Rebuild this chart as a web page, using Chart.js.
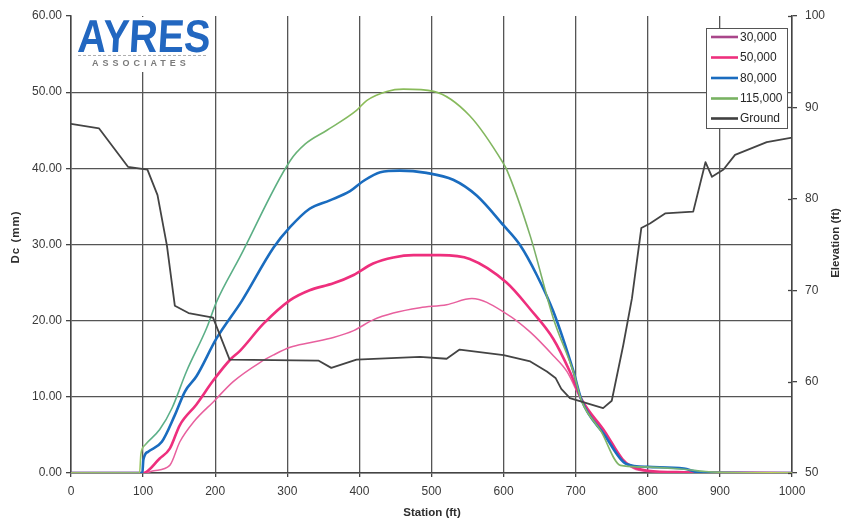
<!DOCTYPE html>
<html>
<head>
<meta charset="utf-8">
<script src="https://cdn.jsdelivr.net/npm/chart.js@4.4.0/dist/chart.umd.min.js"></script>
<style>
  html, body { margin: 0; padding: 0; background: #ffffff; }
  #wrap { width: 843px; height: 522px; position: relative; }
</style>
</head>
<body>
<div id="wrap"><canvas id="c" width="843" height="522"></canvas></div>
<script>
// Series names and axis tick values
const seriesNames = ['30,000', '50,000', '80,000', '115,000', 'Ground'];
const stationTicks = [0, 100, 200, 300, 400, 500, 600, 700, 800, 900, 1000];
const dcTicks = [0, 10, 20, 30, 40, 50, 60];
const elevTicks = [50, 60, 70, 80, 90, 100];

// Dc (mm) along the station line for each load level
const sta30 = [0, 100, 115, 137, 151, 170, 198, 225, 262, 281, 304, 331, 364, 392, 419, 447, 484, 521, 556, 604, 637, 669, 688, 708, 735, 760, 780, 800, 850, 1000];
const dc30  = [0, 0, 0.3, 1.0, 4.1, 6.7, 9.4, 12.0, 14.5, 15.5, 16.5, 17.1, 17.8, 18.7, 20.1, 21.0, 21.7, 22.1, 22.9, 20.9, 18.5, 15.4, 13.3, 9.5, 5.8, 2.2, 0.6, 0.2, 0.1, 0];

const sta50 = [0, 100, 123, 137, 151, 174, 197, 221, 234, 267, 304, 331, 364, 392, 419, 447, 475, 512, 553, 604, 637, 669, 692, 708, 740, 765, 775, 800, 850, 1000];
const dc50  = [0, 0, 1.9, 3.2, 6.3, 9.0, 12.1, 14.9, 16.0, 19.6, 22.7, 24.0, 24.9, 26.0, 27.5, 28.3, 28.6, 28.6, 28.1, 25.0, 21.5, 17.6, 13.3, 9.7, 5.5, 1.8, 1.0, 0.3, 0.1, 0];

const sta80 = [0, 99, 100.3, 107, 126, 144, 158, 174, 202, 237, 281, 304, 331, 359, 387, 405, 429, 456, 493, 530, 563, 600, 623, 646, 669, 697, 708, 740, 770, 800, 850, 870, 1000];
const dc80  = [0, 0, 1.7, 2.8, 4.1, 7.6, 10.7, 12.7, 17.7, 22.6, 29.6, 32.3, 34.7, 35.8, 37.0, 38.3, 39.5, 39.7, 39.4, 38.5, 36.4, 32.5, 29.9, 26.0, 21.2, 13.3, 9.6, 5.0, 1.2, 0.8, 0.6, 0.1, 0];

const sta115 = [0, 95, 97, 103, 123, 140, 160, 188, 202, 234, 304, 325, 355, 396, 410, 438, 461, 503, 553, 600, 604, 637, 669, 697, 708, 735, 762, 790, 850, 880, 900, 1000];
const dc115  = [0, 0, 2.5, 3.7, 5.7, 8.5, 13.3, 19.0, 22.5, 28.3, 41.0, 43.2, 45.0, 47.6, 48.9, 50.1, 50.4, 50.1, 46.9, 40.6, 39.9, 31.1, 20.3, 13.2, 9.5, 5.5, 1.0, 0.8, 0.5, 0.2, 0.1, 0];

// Ground elevation (ft) along the station line
const staGround  = [0, 39, 79, 106, 120, 133, 144, 163, 197, 220, 343, 361, 396, 484, 521, 539, 600, 637, 660, 672, 680, 692, 708, 738, 750, 766, 778, 791, 803, 824, 863, 880, 889, 905, 921, 965, 1000];
const elevGround = [88.2, 87.7, 83.5, 83.2, 80.4, 74.9, 68.3, 67.5, 67.0, 62.4, 62.3, 61.5, 62.4, 62.7, 62.5, 63.5, 62.9, 62.2, 61.1, 60.4, 59.2, 58.2, 57.8, 57.1, 57.9, 64.0, 69.1, 76.8, 77.3, 78.4, 78.6, 84.0, 82.4, 83.2, 84.8, 86.2, 86.7];

function pts(xs, ys) { return xs.map((x, i) => ({ x: x, y: ys[i] })); }

const FONT = "'Liberation Sans', Arial, sans-serif";
const legendColors = ['#a9468a', '#ee2f7d', '#1a6cbf', '#78b262', '#404040'];

// Green line shifts from yellow-green to teal along the station axis
let greenGrad = null, gradKey = '';
function greenStroke(ctx) {
  const ca = ctx.chart.chartArea;
  if (!ca) return '#7ab86c';
  const key = ca.left + ':' + ca.right;
  if (!greenGrad || gradKey !== key) {
    const g = ctx.chart.ctx.createLinearGradient(ca.left, 0, ca.right, 0);
    g.addColorStop(0.00, '#c6d84a');
    g.addColorStop(0.09, '#b4d058');
    g.addColorStop(0.11, '#5cb08a');
    g.addColorStop(0.28, '#5aae84');
    g.addColorStop(0.40, '#8cbc58');
    g.addColorStop(0.55, '#86b95c');
    g.addColorStop(0.65, '#7ab068');
    g.addColorStop(0.72, '#88b860');
    g.addColorStop(0.85, '#6cae7c');
    g.addColorStop(1.00, '#d4e04a');
    greenGrad = g; gradKey = key;
  }
  return greenGrad;
}

function setTicks(values) {
  return function (scale) { scale.ticks = values.map(v => ({ value: v })); };
}

// Logo, legend, right-axis cross ticks and axis titles
const decor = {
  id: 'decor',
  beforeDatasetsDraw(chart) {
    const c = chart.ctx;
    c.save();
    c.fillStyle = '#ffffff';
    c.fillRect(74, 17, 141, 55);
    // AYRES wordmark
    c.save();
    c.translate(77, 52);
    c.transform(0.86, 0, -0.06, 1, 0, 0);
    c.font = "bold 46px " + FONT;
    c.fillStyle = '#2267c0';
    c.textBaseline = 'alphabetic';
    c.fillText('AYRES', 0, 0);
    c.restore();
    c.strokeStyle = '#9a9a9a';
    c.lineWidth = 0.8;
    c.setLineDash([3, 2]);
    c.beginPath(); c.moveTo(78, 55.5); c.lineTo(208, 55.5); c.stroke();
    c.setLineDash([]);
    c.font = "bold 9px " + FONT;
    c.fillStyle = '#7a7a7a';
    c.textBaseline = 'middle';
    c.letterSpacing = '4px';
    c.fillText('ASSOCIATES', 92, 64);
    c.restore();
  },
  afterDraw(chart) {
    const c = chart.ctx;
    const y1 = chart.scales.y1;
    const ca = chart.chartArea;
    c.save();
    // inward halves of the right-axis ticks
    c.strokeStyle = '#444';
    c.lineWidth = 1.3;
    elevTicks.forEach(v => {
      const py = Math.round(y1.getPixelForValue(v)) + 0.5;
      c.beginPath(); c.moveTo(ca.right - 4, py); c.lineTo(ca.right, py); c.stroke();
    });

    // legend box
    const bx = 706.5, by = 28.5, bw = 81, bh = 100;
    c.fillStyle = '#ffffff';
    c.fillRect(bx, by, bw, bh);
    c.strokeStyle = '#555';
    c.lineWidth = 1;
    c.strokeRect(bx, by, bw, bh);
    c.font = "12px " + FONT;
    c.textBaseline = 'middle';
    c.textAlign = 'left';
    const rows = [37, 57.5, 78, 98.5, 118.5];
    chart.data.datasets.forEach((ds, i) => {
      const ry = rows[i];
      c.strokeStyle = legendColors[i];
      c.lineWidth = 2.6;
      c.beginPath(); c.moveTo(711, ry); c.lineTo(738, ry); c.stroke();
      c.fillStyle = '#262626';
      c.fillText(ds.label, 740, ry + 0.5);
    });

    // axis titles
    c.fillStyle = '#2e2e2e';
    c.font = "bold 11.5px " + FONT;
    c.textAlign = 'center';
    c.textBaseline = 'middle';
    c.fillText('Station (ft)', 432, 513);
    c.save();
    c.translate(16, 237);
    c.rotate(-Math.PI / 2);
    c.letterSpacing = '1px';
    c.fillText('Dc (mm)', 0, 0);
    c.restore();
    c.save();
    c.translate(836, 243);
    c.rotate(-Math.PI / 2);
    c.fillText('Elevation (ft)', 0, 0);
    c.restore();
    c.restore();
  }
};

const curve = { cubicInterpolationMode: 'monotone' };

const chart = new Chart(document.getElementById('c'), {
  type: 'line',
  data: {
    datasets: [
      Object.assign({ label: seriesNames[0], data: pts(sta30, dc30), yAxisID: 'y', borderColor: '#e8609e', borderWidth: 1.5, order: 4 }, curve),
      Object.assign({ label: seriesNames[1], data: pts(sta50, dc50), yAxisID: 'y', borderColor: '#ee2f7d', borderWidth: 2.6, order: 3 }, curve),
      Object.assign({ label: seriesNames[2], data: pts(sta80, dc80), yAxisID: 'y', borderColor: '#1a6cbf', borderWidth: 2.6, order: 2 }, curve),
      Object.assign({ label: seriesNames[3], data: pts(sta115, dc115), yAxisID: 'y', borderColor: greenStroke, borderWidth: 1.6, order: 1 }, curve),
      { label: seriesNames[4], data: pts(staGround, elevGround), yAxisID: 'y1', borderColor: '#444444', borderWidth: 1.8, order: 0 }
    ]
  },
  options: {
    responsive: false,
    animation: false,
    devicePixelRatio: 1,
    layout: { padding: { top: 16, left: 0, right: 0, bottom: 0 } },
    elements: {
      point: { radius: 0, hoverRadius: 0 },
      line: { tension: 0, fill: false, borderJoinStyle: 'round', borderCapStyle: 'round' }
    },
    plugins: { legend: { display: false }, tooltip: { enabled: false } },
    scales: {
      x: {
        type: 'linear',
        min: 0, max: 1000,
        afterBuildTicks: setTicks(stationTicks),
        afterFit(s) { s.height = 49; },
        grid: { color: '#555555', lineWidth: 1.3, tickLength: 4, tickColor: '#444' },
        border: { display: true, color: '#444', width: 1.5 },
        ticks: { color: '#3a3a3a', font: { family: FONT, size: 12 }, padding: 7, maxRotation: 0, autoSkip: false,
                 callback: (v) => String(v) }
      },
      y: {
        position: 'left',
        min: 0, max: 60,
        afterBuildTicks: setTicks(dcTicks),
        afterFit(s) { s.width = 71; },
        grid: {
          color: (ctx) => (ctx.tick && ctx.tick.value === 60) ? 'rgba(0,0,0,0)' : '#555555',
          tickColor: '#444',
          lineWidth: 1.3, tickLength: 5
        },
        border: { display: true, color: '#444', width: 1.5 },
        ticks: { color: '#3a3a3a', font: { family: FONT, size: 12 }, padding: 4, autoSkip: false,
                 callback: (v) => Number(v).toFixed(2) }
      },
      y1: {
        position: 'right',
        min: 50, max: 100,
        afterBuildTicks: setTicks(elevTicks),
        afterFit(s) { s.width = 51; },
        grid: { drawOnChartArea: false, tickLength: 5, tickColor: '#444', lineWidth: 1.3 },
        border: { display: true, color: '#444', width: 1.5 },
        ticks: { color: '#3a3a3a', font: { family: FONT, size: 12 }, padding: 8, autoSkip: false }
      }
    }
  },
  plugins: [decor]
});
</script>
</body>
</html>
